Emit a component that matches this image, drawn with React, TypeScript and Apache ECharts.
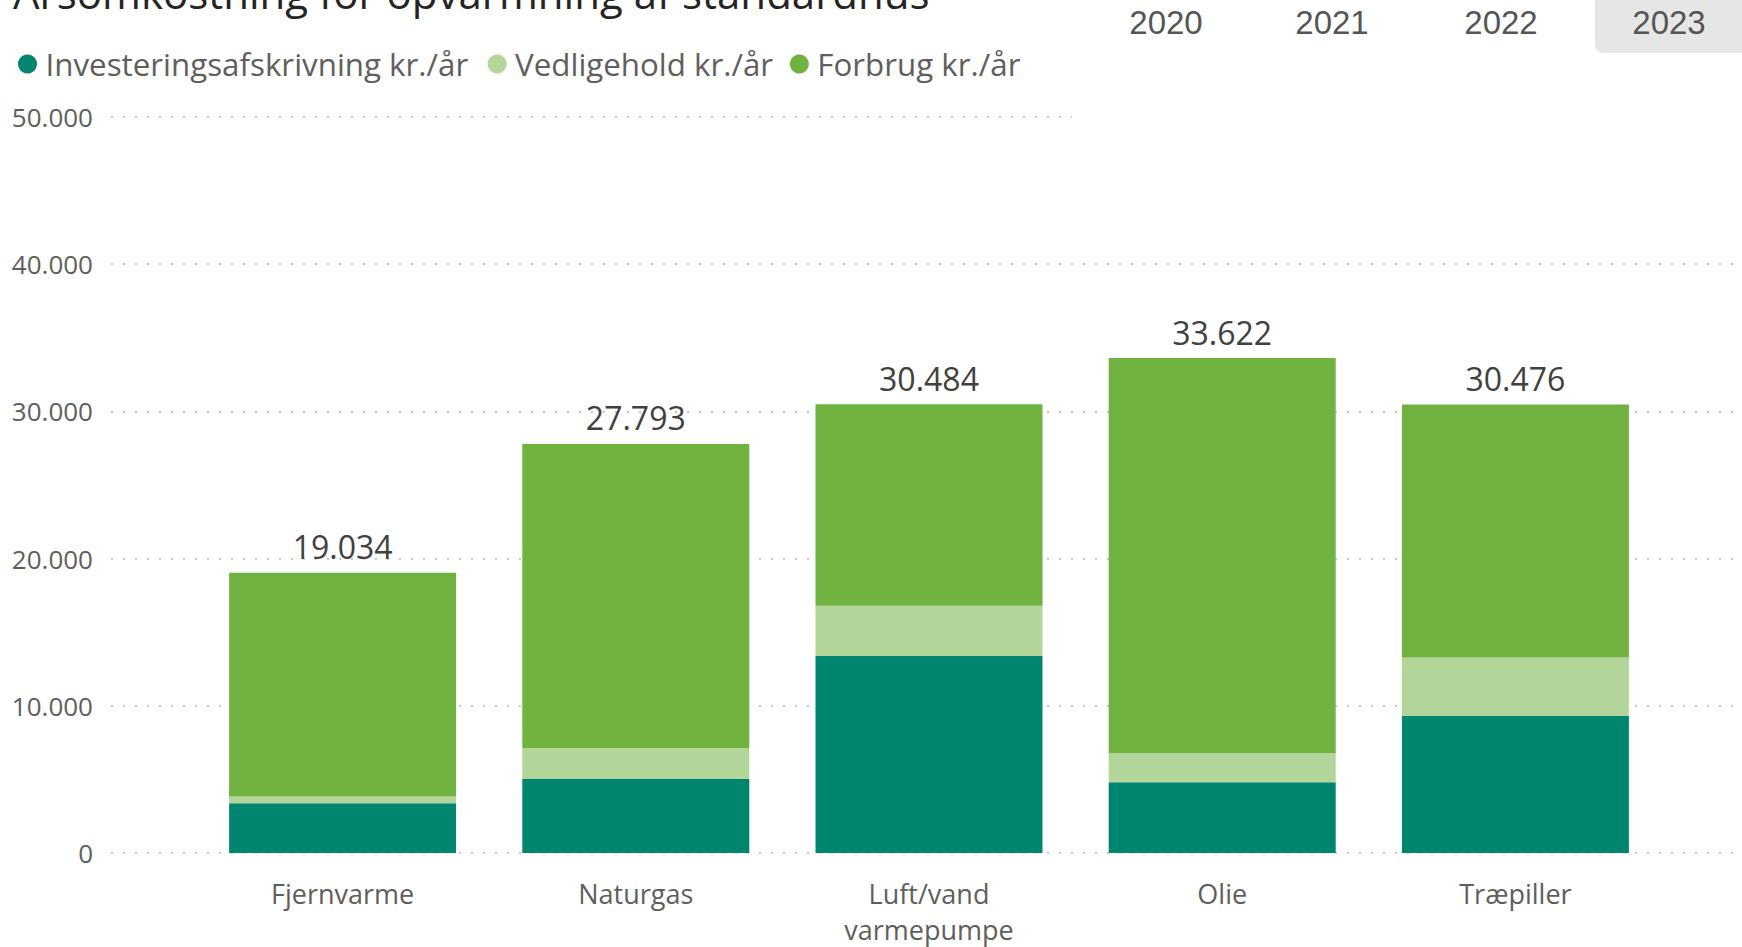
import React, { useEffect, useRef } from "react";
import * as echarts from "echarts";

const title = "Årsomkostning for opvarmning af standardhus";
const categories = ["Fjernvarme", "Naturgas", "Luft/vand\nvarmepumpe", "Olie", "Træpiller"];
const seriesNames = ["Investeringsafskrivning kr./år", "Vedligehold kr./år", "Forbrug kr./år"];
const investering = [3386, 5034, 13386, 4808, 9300];
const vedligehold = [451, 2099, 3409, 1987, 3973];
const forbrug = [15197, 20660, 13689, 26827, 17203];
const totals = [19034, 27793, 30484, 33622, 30476];
const years = ["2020", "2021", "2022", "2023"];
const selectedYear = "2023";
const yTicks = [0, 10000, 20000, 30000, 40000, 50000];

const colors = ["#00856F", "#B3D59A", "#6FB240"];
const FONT = "'Open Sans', 'Noto Sans', sans-serif";

function fmt(v: number): string {
  return String(Math.round(v)).replace(/\B(?=(\d{3})+(?!\d))/g, ".");
}

export default function App() {
  const ref = useRef<HTMLDivElement>(null);
  useEffect(() => {
    if (!ref.current) return;
    const chart = echarts.init(ref.current, undefined, { renderer: "svg" });
    const yMin = yTicks[0];
    const yMax = yTicks[yTicks.length - 1];
    const yInterval = yTicks[1] - yTicks[0];
    const legendLefts = [13, 482.6, 784.8];
    const yearCenters = [1166, 1332, 1501, 1669];

    const option: any = {
      animation: false,
      backgroundColor: "#ffffff",
      textStyle: { fontFamily: FONT },
      legend: seriesNames.map((name, i) => ({
        data: [name],
        left: legendLefts[i],
        top: 41,
        icon: "circle",
        itemWidth: 26,
        itemHeight: 19,
        selectedMode: false,
        textStyle: { fontFamily: FONT, fontSize: 31.3, color: "#605E5C", lineHeight: 36 },
      })),
      grid: [
        { left: 111, right: 0, top: 117, bottom: 94, outerBoundsMode: "none" },
        { left: 196, right: 80, top: 117, bottom: 94, outerBoundsMode: "none" },
      ],
      xAxis: [
        { gridIndex: 0, type: "value", show: false, min: 0, max: 1 },
        {
          gridIndex: 1,
          type: "category",
          data: categories,
          axisLine: { show: false },
          axisTick: { show: false },
          axisLabel: {
            fontFamily: FONT,
            fontSize: 27,
            color: "#605E5C",
            margin: 22,
            lineHeight: 36,
          },
        },
      ],
      yAxis: [
        {
          gridIndex: 0,
          type: "value",
          min: yMin,
          max: yMax,
          interval: yInterval,
          axisLine: { show: false },
          axisTick: { show: false },
          axisLabel: {
            fontFamily: FONT,
            fontSize: 26,
            color: "#605E5C",
            margin: 18,
            formatter: (v: number) => fmt(v),
          },
          splitLine: {
            show: true,
            lineStyle: { color: "#C8C6C4", width: 2, type: [2, 10] },
          },
        },
        {
          gridIndex: 1,
          type: "value",
          min: yMin,
          max: yMax,
          interval: yInterval,
          show: false,
          splitLine: { show: false },
        },
      ],
      series: [
        {
          name: seriesNames[0],
          type: "bar",
          stack: "total",
          xAxisIndex: 1,
          yAxisIndex: 1,
          data: investering,
          barWidth: 227,
          itemStyle: { color: colors[0] },
        },
        {
          name: seriesNames[1],
          type: "bar",
          stack: "total",
          xAxisIndex: 1,
          yAxisIndex: 1,
          data: vedligehold,
          barWidth: 227,
          itemStyle: { color: colors[1] },
        },
        {
          name: seriesNames[2],
          type: "bar",
          stack: "total",
          xAxisIndex: 1,
          yAxisIndex: 1,
          data: forbrug,
          barWidth: 227,
          itemStyle: { color: colors[2] },
          label: {
            show: true,
            position: "top",
            distance: 10,
            fontFamily: FONT,
            fontSize: 32,
            color: "#404040",
            formatter: (p: any) => fmt(totals[p.dataIndex]),
          },
        },
      ],
      graphic: [
        {
          type: "text",
          left: 13,
          top: -29,
          z: 20,
          style: {
            text: title,
            fontFamily: FONT,
            fontSize: 42,
            fill: "#252423",
          },
        },
        {
          type: "rect",
          shape: { x: 1072, y: 0, width: 670, height: 132 },
          style: { fill: "#ffffff" },
          z: 10,
        },
        {
          type: "rect",
          shape: { x: 1595, y: -10, width: 170, height: 63, r: 8 },
          style: { fill: "#E6E6E6" },
          z: 11,
        },
        ...years.map((y, i) => ({
          type: "text",
          x: yearCenters[i],
          y: 22,
          z: 12,
          style: {
            text: y,
            fontFamily: "'Liberation Sans', Arial, sans-serif",
            fontSize: 33,
            fill: y === selectedYear ? "#555555" : "#555555",
            align: "center",
            verticalAlign: "middle",
          },
        })),
      ],
    };
    chart.setOption(option);
    return () => chart.dispose();
  }, []);
  return (
    <div
      ref={ref}
      style={{ position: "fixed", left: 0, top: 0, width: 1742, height: 947 }}
    />
  );
}
